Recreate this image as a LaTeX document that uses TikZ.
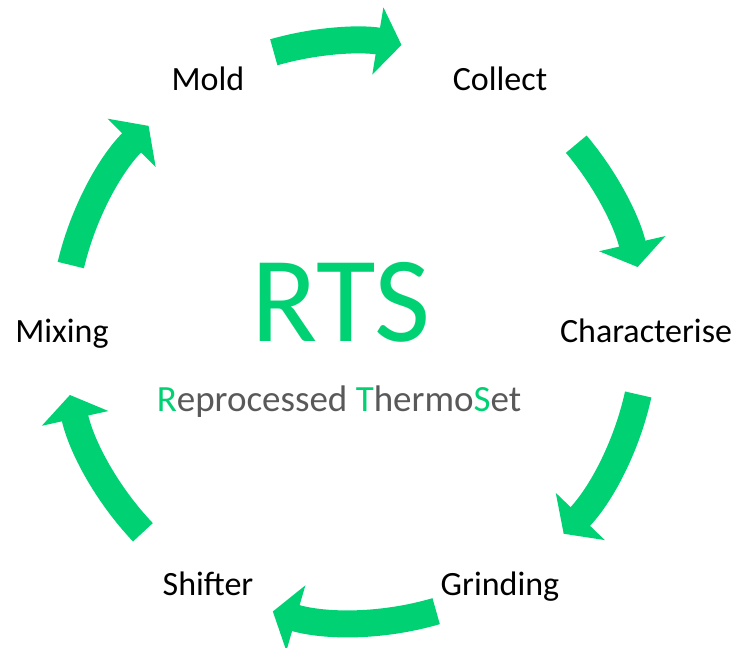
\documentclass[tikz,border=0pt]{standalone}
\usepackage{fontspec}
\setmainfont{Carlito}
\usepackage{tikz}
\usetikzlibrary{arrows.meta, positioning}
\definecolor{rtsgreen}{RGB}{0,210,116}
\definecolor{rtsgray}{RGB}{89,89,89}

\begin{document}
\begin{tikzpicture}[x=0.5pt, y=0.5pt, >=Stealth]
        \tikzstyle{stage} = [anchor=base, yshift=-5.5pt, inner sep=0pt, font=\fontsize{17}{20}\selectfont]
        \tikzstyle{flow} = [draw=rtsgreen, line width=13.5pt, -{Triangle[length=12pt, width=33.5pt, fill=rtsgreen]}]

        \useasboundingbox (-354,-316) rectangle (386,332);

        % Centro
        \node [anchor=base, inner sep=0pt, text=rtsgreen, font=\fontsize{61}{70}\selectfont] (rts) at (-13,-10) {RTS};
        \node [anchor=base, inner sep=0pt, text=rtsgray, font=\fontsize{18.5}{22}\selectfont] (nombre) at (-15,-80)
            {{\color{rtsgreen}R}eprocessed {\color{rtsgreen}T}hermo{\color{rtsgreen}S}et};

        % Etapas del ciclo
        \node [stage] (collect) at (60:292) {Collect};
        \node [stage] (character) at (0:292) {Characterise};
        \node [stage] (grinding) at (-60:292) {Grinding};
        \node [stage] (shifter) at (-120:292) {Shifter};
        \node [stage] (mixing) at (180:292) {Mixing};
        \node [stage] (mold) at (120:292) {Mold};

        % Flechas curvas entre etapas
        \foreach \a/\b [count=\i] in {106/80.6, 40.2/12.9, -12.4/-43.9, -73.6/-106.2, -136.5/-167.5, 166.7/134.9} {
            \coordinate (tail\i) at (\a:291);
            \draw [flow] (tail\i) arc[start angle=\a, end angle=\b, radius=291];
        }

        \end{tikzpicture}
\end{document}
